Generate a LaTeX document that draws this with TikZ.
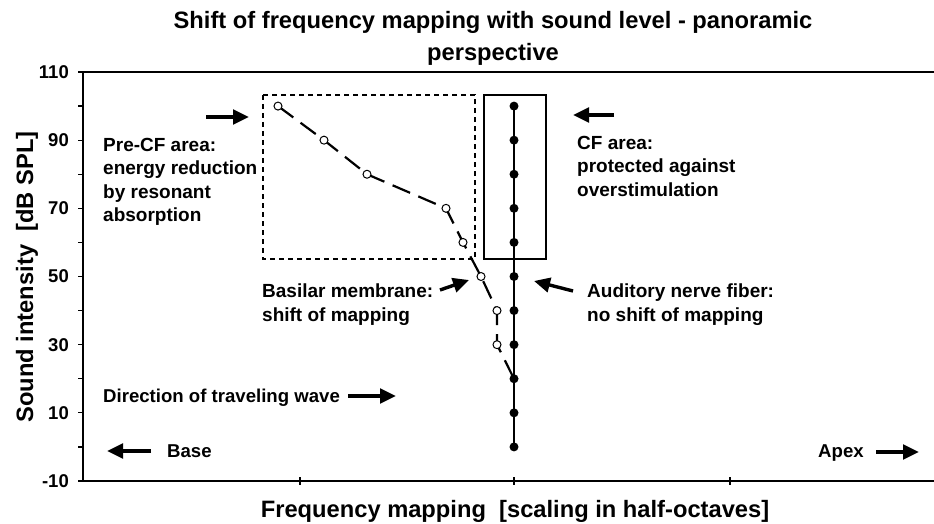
\documentclass[tikz,border=0pt]{standalone}
\usepackage{fontspec}
\setmainfont{Liberation Sans}
\usetikzlibrary{arrows.meta}

\tikzset{
  axisline/.style={line width=2pt},
  thinaxis/.style={line width=1.4pt},
  tickmark/.style={line width=1.3pt},
  ticklabel/.style={font=\fontsize{18.5}{22}\selectfont\bfseries, anchor=east, inner sep=0pt},
  note/.style={font=\fontsize{19}{23.3}\selectfont\bfseries, align=left, anchor=north west, inner sep=0pt},
  oneline/.style={font=\fontsize{18.6}{23}\selectfont\bfseries, anchor=base west, inner sep=0pt},
  bigtext/.style={font=\fontsize{23.7}{32}\selectfont\bfseries, inner sep=0pt},
  pointer/.style={line width=3.4pt, -{Triangle[length=16pt,width=14.5pt]}},
  opendot/.style={circle, draw, fill=white, inner sep=0pt, minimum size=8pt, line width=1pt},
  filldot/.style={circle, fill, inner sep=0pt, minimum size=9pt},
  bmline/.style={line width=2.2pt, dash pattern=on 19pt off 9pt},
  nerveline/.style={line width=2.8pt},
  precfbox/.style={line width=1.5pt, dash pattern=on 5pt off 4pt},
  cfbox/.style={line width=1.5pt}
}

\begin{document}
\begin{tikzpicture}[x=1pt, y=-1pt,
  declare function={lev(\v)=72+(110-\v)*3.4083;}]
\useasboundingbox (0,0) rectangle (934,524);

% title
\node[bigtext, anchor=north, align=center] (title) at (493,11)
  {Shift of frequency mapping with sound level - panoramic\\perspective};

% frame of the plot area
\draw[axisline] (78,72) -- (934,72);
\draw[axisline] (83,72) -- (83,482);
\draw[thinaxis] (78,481) -- (934,481);

% y ticks and labels
\foreach \v in {-10,0,...,110} {
  \draw[tickmark] (78,{lev(\v)}) -- (83,{lev(\v)});
}
\foreach \v in {-10,10,...,110} {
  \node[ticklabel] (yl\v) at (69,{lev(\v)}) {\v};
}

% x ticks
\foreach \x in {300,514,730} {
  \draw[tickmark] (\x,477) -- (\x,485);
}

% axis titles
\node[bigtext, anchor=base, rotate=90] (ytitle) at (33,277)
  {Sound intensity\ \ [dB SPL]};
\node[bigtext, anchor=base] (xtitle) at (515,517)
  {Frequency mapping\ \ [scaling in half-octaves]};

% area boxes
\draw[precfbox] (263,95) rectangle (475,259);
\draw[cfbox] (484,95) rectangle (546,259);

% basilar membrane points
\coordinate (b100) at (278,{lev(100)});
\coordinate (b90)  at (324,{lev(90)});
\coordinate (b80)  at (367,{lev(80)});
\coordinate (b70)  at (446,{lev(70)});
\coordinate (b60)  at (463,{lev(60)});
\coordinate (b50)  at (481,{lev(50)});
\coordinate (b40)  at (497,{lev(40)});
\coordinate (b30)  at (497,{lev(30)});
\coordinate (b20)  at (514,{lev(20)});

% auditory nerve fiber points
\foreach \v in {0,10,...,100} {
  \coordinate (n\v) at (514,{lev(\v)});
}

% basilar membrane curve
\draw[bmline] (b100) -- (b90) -- (b80) -- (b70) -- (b60) -- (b50) -- (b40) -- (b30) -- (b20);

% nerve fiber line
\draw[nerveline] (n0) -- (n100);
\foreach \v in {0,10,...,100} {
  \node[filldot] (nd\v) at (n\v) {};
}
\foreach \v in {100,90,80,70,60,50,40,30} {
  \node[opendot] (bd\v) at (b\v) {};
}

% annotations
\node[note] (precf) at (103,138)
  {Pre-CF area:\\energy reduction\\by resonant\\absorption};
\node[note] (cf) at (577,136)
  {CF area:\\protected against\\overstimulation};
\node[note] (bm) at (262,284)
  {Basilar membrane:\\shift of mapping};
\node[note] (anf) at (587,284)
  {Auditory nerve fiber:\\no shift of mapping};
\node[oneline] (wave) at (103,402) {Direction of traveling wave};
\node[oneline] (base) at (167,457) {Base};
\node[oneline] (apex) at (818,457) {Apex};

% arrows
\coordinate (precfA) at (206,117);
\coordinate (precfB) at (249,117);
\coordinate (cfA) at (614,115);
\coordinate (cfB) at (573,115);
\coordinate (bmA) at (440,290);
\coordinate (bmB) at (469,280);
\coordinate (anfA) at (573,291);
\coordinate (anfB) at (534,281);
\coordinate (waveA) at (348,396);
\coordinate (waveB) at (396,396);
\coordinate (baseA) at (151,451);
\coordinate (baseB) at (107,451);
\coordinate (apexA) at (876,452);
\coordinate (apexB) at (919,452);

\draw[pointer] (precfA) -- (precfB);
\draw[pointer] (cfA) -- (cfB);
\draw[pointer] (bmA) -- (bmB);
\draw[pointer] (anfA) -- (anfB);
\draw[pointer] (waveA) -- (waveB);
\draw[pointer] (baseA) -- (baseB);
\draw[pointer] (apexA) -- (apexB);
\end{tikzpicture}
\end{document}
